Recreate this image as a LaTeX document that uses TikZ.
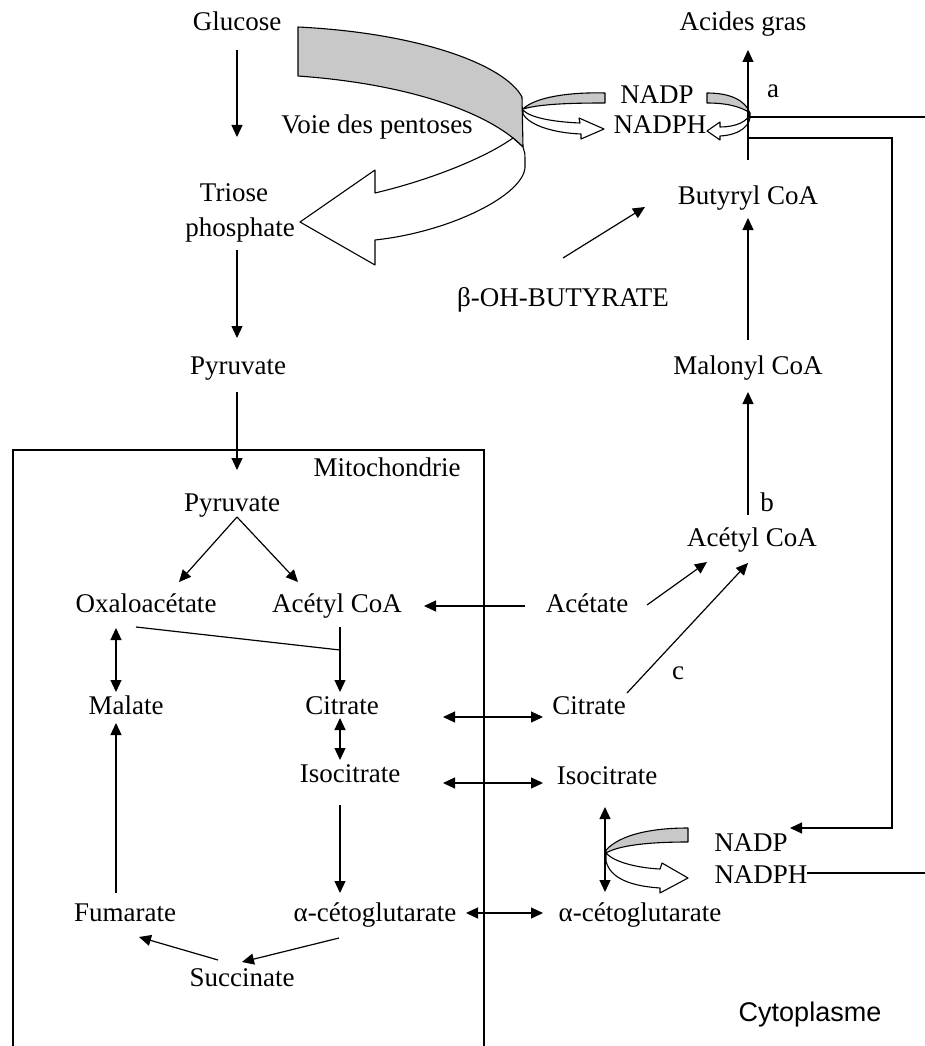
\documentclass[tikz,border=0pt]{standalone}
\usepackage{fontspec}
\setmainfont{Liberation Serif}
\newfontfamily\sansf{Liberation Sans}
\usetikzlibrary{arrows.meta}
\definecolor{gry}{RGB}{200,200,200}
\begin{document}
\begin{tikzpicture}[x=1pt,y=-1pt,
  lbl/.style={inner sep=0pt, text height=18pt, text depth=6pt, font=\fontsize{27}{32}\selectfont},
  arr/.style={-{Triangle[length=12pt,width=11pt]}, line width=1.2pt},
  darr/.style={{Triangle[length=12pt,width=11pt]}-{Triangle[length=12pt,width=11pt]}, line width=1.2pt},
  ln/.style={line width=1.2pt},
  rib/.style={line width=1.1pt, line join=round}]
\useasboundingbox (0,0) rectangle (925,1046);

% ---- labels ----
\node[lbl] (glu) at (237,25) {Glucose};
\node[lbl] (acides) at (743,25) {Acides gras};
\node[lbl] (voie) at (377,128) {Voie des pentoses};
\node[lbl] (nadpA) at (657,98) {NADP};
\node[lbl] (nadphA) at (660,128) {NADPH};
\node[lbl] (la) at (773,92) {a};
\node[inner sep=0pt, align=center, font=\fontsize{27}{35}\selectfont] (tri) at (240,213) {Triose\kern 12pt\\phosphate};
\node[lbl] (butyryl) at (748,198) {Butyryl CoA};
\node[lbl] (beta) at (563,300) {β-OH-BUTYRATE};
\node[lbl] (pyr) at (238,368) {Pyruvate};
\node[lbl] (malonyl) at (748,368) {Malonyl CoA};
\node[lbl] (mito) at (387,470) {Mitochondrie};
\node[lbl] (pyrin) at (232,505) {Pyruvate};
\node[lbl] (lb) at (767,505) {b};
\node[lbl] (accoar) at (752,540) {Acétyl CoA};
\node[lbl] (oxa) at (146,606) {Oxaloacétate};
\node[lbl] (accoa) at (337,606) {Acétyl CoA};
\node[lbl] (acetate) at (587,606) {Acétate};
\node[lbl] (lc) at (678,673) {c};
\node[lbl] (malate) at (126,708) {Malate};
\node[lbl] (citin) at (342,708) {Citrate};
\node[lbl] (citout) at (589,708) {Citrate};
\node[lbl] (isoin) at (350,776) {Isocitrate};
\node[lbl] (isoout) at (607,778) {Isocitrate};
\node[lbl] (nadpB) at (751,845) {NADP};
\node[lbl] (nadphB) at (761,877) {NADPH};
\node[lbl] (fum) at (125,915) {Fumarate};
\node[lbl] (akgin) at (375,915) {α-cétoglutarate};
\node[lbl] (akgout) at (640,915) {α-cétoglutarate};
\node[lbl] (succ) at (242,980) {Succinate};
\node[lbl, font=\sansf\fontsize{27}{32}\selectfont] (cyto) at (810,1015) {Cytoplasme};

\coordinate (e1) at (925,117);
\coordinate (e2) at (925,873);
\coordinate (j) at ([shift={(3,44)}]accoa.center);

% ---- mitochondrion box ----
\draw[ln] (13,1046) -- (13,450) -- (484,450) -- (484,1046);

% ---- pentose ribbon ----
\filldraw[rib, fill=gry] (298,27) .. controls (420,33) and (505,65) .. (522,97)
   -- (523,147) .. controls (490,113) and (410,84) .. (298,76) -- cycle;
\filldraw[rib, fill=white] (523,147) .. controls (525,152) .. (525,167)
   .. controls (524,195) and (450,232) .. (375,240) -- (375,265) -- (300,222)
   -- (375,170) -- (375,193) .. controls (430,180) and (485,158) .. (513,138) -- cycle;

% ---- top NADP curls ----
\filldraw[rib, fill=gry] (605,93) .. controls (570,92) and (535,97) .. (523,109)
   .. controls (540,104) and (570,103) .. (605,103) -- cycle;
\filldraw[rib, fill=white] (523,110) .. controls (530,118) and (555,122) .. (580,123)
   -- (579,118) -- (604,129) -- (581,139) -- (581,134)
   .. controls (555,133) and (530,126) .. (523,114) -- cycle;
\filldraw[rib, fill=gry] (707,93) .. controls (730,93) and (745,100) .. (750,113)
   .. controls (740,106) and (725,103) .. (707,103) -- cycle;
\filldraw[rib, fill=white] (750,113) .. controls (748,122) and (735,127) .. (720,127)
   -- (720,122) -- (707,131) -- (720,140) -- (720,136)
   .. controls (740,135) and (752,125) .. (750,113) -- cycle;

% ---- bottom NADP curl ----
\filldraw[rib, fill=gry] (688,828) .. controls (650,828) and (620,835) .. (606,850)
   -- (606,853) .. controls (620,845) and (650,842) .. (688,842) -- cycle;
\filldraw[rib, fill=white] (606,853) .. controls (615,863) and (640,868) .. (660,869)
   -- (662,863) -- (688,878) -- (660,893) -- (660,888)
   .. controls (630,886) and (610,878) .. (606,861) -- cycle;

% ---- connectors ----
\draw[arr] ([shift={(0,25)}]glu.center) -- ([shift={(-3,-76)}]tri.center);
\draw[arr] ([shift={(-3,37)}]tri.center) -- ([shift={(-1,-30)}]pyr.center);
\draw[arr] ([shift={(-1,24)}]pyr.center) -- ([shift={(5,-35)}]pyrin.center);
\draw[arr] ([shift={(5,12)}]pyrin.center) -- ([shift={(33,-24)}]oxa.center);
\draw[arr] ([shift={(5,12)}]pyrin.center) -- ([shift={(-39,-24)}]accoa.center);
\draw[arr] ([shift={(3,21)}]accoa.center) -- ([shift={(-2,-16)}]citin.center);
\draw[ln] ([shift={(-10,21)}]oxa.center) -- (j);
\draw[darr] ([shift={(-30,22)}]oxa.center) -- ([shift={(-10,-16)}]malate.center);
\draw[arr] ([shift={(-62,0)}]acetate.center) -- ([shift={(87,0)}]accoa.center);
\draw[darr] ([shift={(101,9)}]citin.center) -- ([shift={(-46,9)}]citout.center);
\draw[darr] ([shift={(93,7)}]isoin.center) -- ([shift={(-64,5)}]isoout.center);
\draw[darr] ([shift={(-2,10)}]citin.center) -- ([shift={(-10,-16)}]isoin.center);
\draw[arr] ([shift={(-10,29)}]isoin.center) -- ([shift={(-35,-22)}]akgin.center);
\draw[arr] ([shift={(-36,23)}]akgin.center) -- ([shift={(0,-18)}]succ.center);
\draw[arr] ([shift={(-24,-20)}]succ.center) -- ([shift={(14,22)}]fum.center);
\draw[arr] ([shift={(-9,-22)}]fum.center) -- ([shift={(-10,15)}]malate.center);
\draw[darr] ([shift={(91,-2)}]akgin.center) -- ([shift={(-97,-2)}]akgout.center);
\draw[darr] ([shift={(-2,29)}]isoout.center) -- ([shift={(-35,-23)}]akgout.center);
\draw[arr] ([shift={(60,-1)}]acetate.center) -- ([shift={(-45,22)}]accoar.center);
\draw[arr] ([shift={(38,-15)}]citout.center) -- ([shift={(-4,23)}]accoar.center);
\draw[arr] ([shift={(-4,-25)}]accoar.center) -- ([shift={(0,24)}]malonyl.center);
\draw[arr] ([shift={(0,-28)}]malonyl.center) -- ([shift={(0,20)}]butyryl.center);
\draw[arr] ([shift={(0,-42)}]beta.center) -- ([shift={(-103,9)}]butyryl.center);
\draw[arr] ([shift={(0,-38)}]butyryl.center) -- ([shift={(5,25)}]acides.center);
\draw[ln] ([shift={(0,-81)}]butyryl.center) -- (e1);
\draw[arr] ([shift={(0,-60)}]butyryl.center) -| ([shift={(141,-17)}]nadpB.center) -- ([shift={(39,-17)}]nadpB.center);
\draw[ln] ([shift={(46,-4)}]nadphB.center) -- (e2);
\end{tikzpicture}
\end{document}
